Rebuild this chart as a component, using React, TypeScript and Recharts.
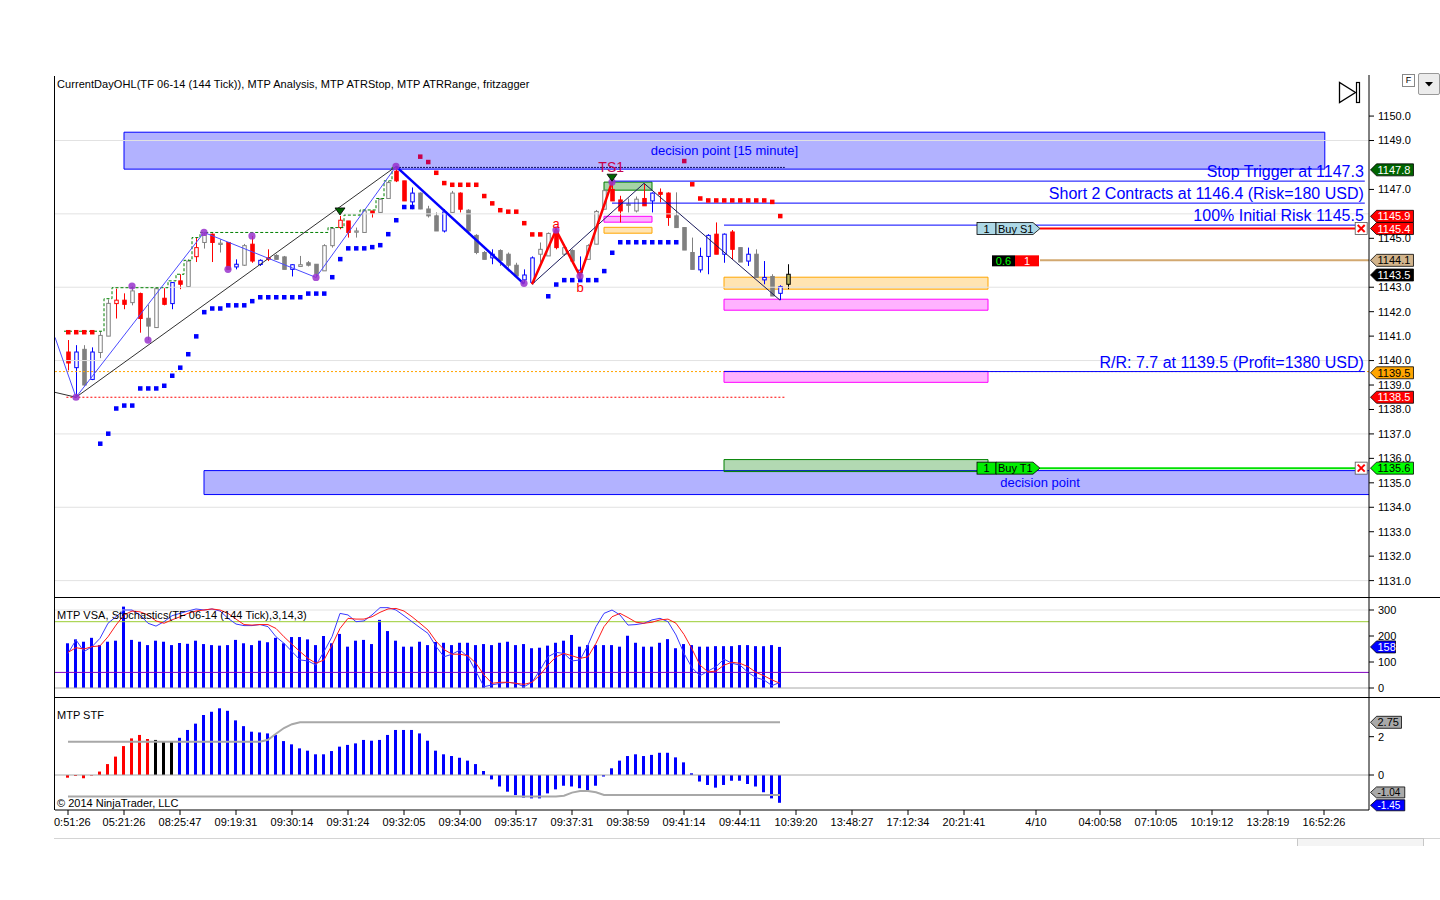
import React from 'react';
import {
  ComposedChart, Bar, Line, Scatter, XAxis, YAxis, ReferenceLine, ReferenceArea, Cell,
} from 'recharts';

const FONT = '"Liberation Sans", Arial, sans-serif';

// ---------- price candles (bar index 0..90) ----------
const OPEN = [1140.35,1139.71,1140.46,1139.23,1140.33,1141.0,1142.33,1142.47,1142.37,1142.74,
1141.73,1141.35,1142.55,1142.33,1143.26,1143.03,1144.25,1144.83,1145.17,1144.75,
1144.83,1143.83,1143.9,1144.76,1143.93,1144.2,1144.3,1144.24,1143.73,1143.85,
1144.0,1143.94,1143.67,1144.7,1145.44,1145.71,1145.25,1145.24,1146.12,1146.06,
1146.63,1147.75,1147.35,1146.49,1146.85,1146.2,1145.92,1145.3,1146.06,1146.85,
1146.15,1145.12,1144.42,1144.2,1144.5,1144.35,1143.9,1143.3,1143.2,1144.35,
1144.28,1145.3,1144.35,1144.5,1143.6,1144.14,1144.76,1146.19,1147.0,1146.57,
1146.4,1146.12,1146.63,1146.53,1146.88,1146.85,1145.92,1145.44,1144.42,1143.71,
1144.26,1145.17,1144.35,1145.26,1144.62,1144.07,1144.35,1143.3,1143.44,1142.75,
1143.12];
const HIGH = [1140.84,1140.63,1140.63,1140.54,1141.2,1142.5,1142.94,1142.75,1143.05,1142.78,
1142.29,1142.98,1142.96,1143.21,1143.53,1144.14,1145.03,1145.24,1145.2,1144.96,
1144.85,1144.14,1144.77,1145.1,1144.14,1144.55,1144.35,1144.28,1143.94,1144.28,
1144.07,1143.94,1144.76,1145.44,1145.92,1145.71,1145.44,1146.19,1146.12,1146.63,
1147.35,1147.94,1147.35,1147.08,1146.88,1146.33,1146.06,1146.19,1146.94,1146.88,
1146.19,1145.17,1144.48,1144.55,1144.55,1144.42,1144.0,1143.73,1144.26,1144.83,
1145.24,1145.4,1144.76,1144.55,1144.26,1144.76,1146.16,1147.0,1147.3,1146.74,
1146.63,1146.71,1147.22,1146.88,1147.04,1146.88,1146.88,1145.44,1145.03,1144.62,
1145.17,1145.65,1145.2,1145.34,1144.62,1144.62,1144.55,1144.07,1143.53,1143.08,
1143.94];
const LOW = [1139.6,1138.5,1138.97,1139.2,1140.1,1141.0,1141.72,1142.1,1142.26,1141.14,
1140.84,1141.35,1142.26,1142.1,1142.92,1143.03,1144.03,1144.58,1144.03,1144.42,
1143.73,1143.73,1143.87,1144.0,1143.87,1144.07,1144.14,1143.73,1143.44,1143.85,
1143.85,1143.4,1143.67,1144.62,1145.37,1145.03,1145.03,1145.24,1145.85,1146.06,
1146.63,1147.3,1146.53,1146.19,1146.19,1145.85,1145.3,1145.24,1146.06,1146.06,
1145.17,1144.35,1144.14,1143.94,1143.87,1143.8,1143.46,1143.16,1143.12,1144.0,
1144.28,1144.55,1144.28,1144.0,1143.46,1144.14,1144.76,1146.19,1146.53,1145.65,
1146.06,1146.06,1146.33,1146.06,1146.47,1145.51,1145.44,1144.52,1143.73,1143.6,
1143.53,1144.35,1144.0,1144.14,1144.03,1143.87,1143.4,1143.12,1142.64,1142.47,
1142.92];
const CLOSE = [1139.9,1140.35,1139.0,1140.35,1141.03,1142.34,1142.47,1142.3,1142.85,1141.72,
1141.41,1142.94,1142.3,1143.19,1143.12,1144.07,1144.62,1145.13,1144.83,1144.8,
1143.73,1143.94,1144.7,1144.07,1144.1,1144.15,1144.14,1143.73,1143.92,1143.92,
1143.9,1143.55,1144.7,1145.4,1145.74,1145.24,1145.3,1146.12,1146.03,1146.6,
1147.28,1147.35,1146.53,1146.85,1146.2,1145.92,1145.3,1146.08,1146.85,1146.19,
1145.3,1144.42,1144.14,1144.35,1144.1,1143.9,1143.46,1143.5,1144.2,1144.55,
1145.2,1144.62,1144.62,1144.07,1143.7,1144.7,1146.1,1146.95,1146.53,1146.12,
1146.35,1146.6,1146.33,1146.85,1146.8,1145.85,1145.44,1144.52,1143.73,1144.26,
1145.12,1144.35,1145.17,1144.55,1144.03,1144.35,1143.4,1143.4,1142.64,1143.03,
1143.53];
// r = red, b = blue, g = gray, k = current bar
const CANDLE_COLOR = 'rbgbggrrgrggrbrgrgrgrbgrbrggbgggggrrggrggrrbgggbgrgggbgggbbggrggbgggrrggrbrrgggbbrbrgbgbgbk';

// ---------- ATR stop dots ----------
const BLUE_STOP_IDX = [4,5,6,7,8,9,10,11,12,13,14,15,16,17,18,19,20,21,22,23,24,25,26,27,28,29,30,31,32,33,34,35,36,37,38,39,40,41,42,43,
  60,61,62,63,64,65,66,67,68,69,70,71,72,73,74,75,76];
const BLUE_STOP_VAL = [1136.61,1137.02,1138.05,1138.17,1138.17,1138.87,1138.87,1138.87,1138.98,1139.39,1139.72,1140.27,1141.0,1141.99,1142.14,1142.14,1142.27,1142.27,1142.27,1142.44,1142.6,1142.6,1142.6,1142.6,1142.6,1142.6,1142.75,1142.75,1142.75,1143.42,1144.16,1144.6,1144.6,1144.6,1144.65,1144.73,1145.18,1145.75,1146.29,1146.29,
  1142.64,1143.12,1143.3,1143.3,1143.3,1143.3,1143.3,1143.67,1144.42,1144.85,1144.85,1144.85,1144.85,1144.85,1144.85,1144.85,1144.85];
const RED_STOP_IDX = [0,1,2,3,44,45,46,47,48,49,50,51,52,53,54,55,56,57,58,59,77,78,79,80,81,82,83,84,85,86,87,88,89];
const RED_STOP_VAL = [1141.17,1141.17,1141.17,1141.17,1148.35,1148.13,1147.69,1147.27,1147.2,1147.2,1147.2,1147.2,1146.74,1146.44,1146.16,1146.1,1146.1,1145.63,1145.17,1145.17,
  1148.17,1147.22,1146.64,1146.56,1146.56,1146.56,1146.56,1146.56,1146.56,1146.56,1146.56,1146.5,1145.92];
const RED_STOP_KIND = 'rrrrmmrrrrrrrrrrrrrrmrrrrrrrrrrrr'; // m = crimson

// ---------- swing points / zigzags ----------
const PIVOT_IDX = [1,8,10,17,20,23,31,41,57,61,64,68];
const PIVOT_VAL = [1138.5,1143.05,1140.84,1145.24,1143.73,1145.1,1143.4,1147.94,1143.16,1145.34,1143.46,1147.3];
const ZIG_BLUE_IDX = [-1.625,1,17,31,41];
const ZIG_BLUE_VAL = [1140.95,1138.5,1145.24,1143.4,1147.94];
const ZIG_BLUE_BOLD_IDX = [41,57];
const ZIG_BLUE_BOLD_VAL = [1147.94,1143.14];
const ZIG_BLACK_IDX = [-1.625,1,41];
const ZIG_BLACK_VAL = [1138.7,1138.5,1147.94];
const ZIG_NAVY_IDX = [58,72,89];
const ZIG_NAVY_VAL = [1143.12,1147.25,1142.47];
const ZIG_RED_IDX = [58,61,64,68];
const ZIG_RED_VAL = [1143.12,1145.34,1143.46,1147.3];
const RANGE_STEP_IDX = [-0.5,4.5,5.5,12.5,13.5,14.5,15.5,16.5,32.5,34.5,36.5,38.5,39.5,40.5,41];
const RANGE_STEP_VAL = [1141.2,1142.53,1142.98,1143.26,1143.53,1144.1,1145.03,1145.24,1145.44,1145.95,1146.16,1146.63,1147.35,1147.9,1147.9];
const SIGNAL_IDX = [34,68];
const SIGNAL_VAL = [1146.12,1147.5];
const TAG_IDX = [61,64,67.9];
const TAG_VAL = [1145.62,1143.0,1147.9];
const TAG_TEXT = ['a','b','TS1'];

// ---------- levels ----------
// 1148.0, 1146.0 and 1144.0 sit under the price flags in the reference
const PRICE_TICKS = [1131,1132,1133,1134,1135,1136,1137,1138,1139,1140,1141,1142,1143,1145,1147,1149,1150];
const GRID_LEVELS = [1131,1134,1137,1140,1143,1146,1149];
const STOP_TRIGGER = 1147.34;
const SHORT_ENTRY = 1146.44;
const INITIAL_RISK = 1145.54;
const RR_TARGET = 1139.55;
const BUY_S1 = 1145.4;
const RISK_REWARD_LVL = 1144.1;
const BUY_T1 = 1135.6;
const PIVOT_LOW_LVL = 1138.5;
const SWING_HIGH_LVL = 1147.9;
const FLAG_VAL = [1147.8,1145.9,1145.4,1144.1,1143.5,1139.5,1138.5,1135.6];
const FLAG_BG = ['#006400','#ff0000','#ff0000','#d2b48c','#000000','#ffa500','#ff0000','#00ff00'];
const FLAG_FG = ['#ffffff','#ffffff','#ffffff','#000000','#ffffff','#000000','#ffffff','#000000'];

// ---------- VSA + stochastics ----------
const VOLUME = [172,187,178,193,165,178,182,313,185,178,
165,182,178,165,173,170,182,169,165,163,
165,185,172,165,182,176,193,172,196,196,
187,165,200,172,208,159,182,185,169,262,
219,182,159,159,178,165,177,174,165,174,
174,165,169,165,174,178,165,169,153,155,
163,174,182,204,159,165,165,165,165,159,
201,174,159,159,174,188,153,169,165,159,
159,161,161,161,165,165,161,161,165,158];
const STOCH_K = [133,185,140,159,191,249,274,300,300,281,
249,238,255,278,287,296,304,300,304,296,
268,246,240,240,244,236,197,172,140,108,
104,88,140,197,287,281,255,258,281,309,
309,300,278,255,232,210,160,120,130,146,
120,63,5,12,18,22,18,5,22,69,
120,137,133,104,108,165,236,287,300,281,
242,244,249,262,268,255,204,133,78,47,
65,82,111,95,88,60,40,31,9,22];
const STOCH_D = [137,155,150,159,162,197,242,281,296,293,
281,258,249,262,274,287,296,300,304,300,
287,265,244,242,244,244,229,197,168,140,
114,95,108,165,229,268,265,265,274,291,
304,306,296,274,249,223,180,148,130,130,
124,95,50,18,22,22,18,14,22,50,
88,120,133,124,114,120,172,236,274,287,
271,253,249,253,262,265,249,206,150,88,
62,65,88,99,95,82,60,47,31,18];

// ---------- STF ----------
const STF = [-0.14,-0.05,-0.17,-0.03,0.18,0.57,0.96,1.51,1.91,2.09,
1.88,1.83,1.77,1.77,1.94,2.35,2.68,3.13,3.3,3.48,
3.35,2.85,2.55,2.26,2.22,2.17,2.09,1.77,1.6,1.39,
1.27,1.08,1.08,1.25,1.48,1.57,1.65,1.83,1.79,1.83,
2.09,2.35,2.35,2.35,2.17,1.79,1.27,1.08,0.99,0.9,
0.75,0.57,0.21,-0.23,-0.6,-0.87,-1.05,-1.18,-1.22,-1.22,
-0.96,-0.75,-0.56,-0.6,-0.69,-0.8,-0.56,-0.08,0.35,0.75,
0.99,1.08,0.99,1.05,1.16,1.16,0.92,0.66,0.09,-0.34,
-0.52,-0.66,-0.52,-0.3,-0.3,-0.47,-0.6,-0.9,-1.22,-1.45];
const STF_COLOR = 'rrrrrrrrrrrkkkbbbbbbbbbbbbbbbbbbbbbbbbbbbbbbbbbbbbbbbbbbbbbbbbbbbbbbbbbbbbbbbbbbbbbbbbbbbb';
const STF_UPPER_IDX = [0,24,25,26,27,28,29,89];
const STF_UPPER_VAL = [1.74,1.74,1.84,2.15,2.45,2.65,2.75,2.75];
const STF_LOWER_IDX = [0,61,62,63,64,65,66,67,89];
const STF_LOWER_VAL = [-1.12,-1.12,-1.08,-0.92,-0.84,-0.84,-0.9,-1.04,-1.04];

// ---------- time axis ----------
const X_TICK_IDX = [0,7,14,21,28,35,42,49,56,63,70,77,84,91,98,105,112,121,129,136,143,150,157];
const X_TICK_LABELS = ['0:51:26','05:21:26','08:25:47','09:19:31','09:30:14','09:31:24','09:32:05','09:34:00','09:35:17','09:37:31','09:38:59','09:41:14','09:44:11','10:39:20','13:48:27','17:12:34','20:21:41','4/10','04:00:58','07:10:05','10:19:12','13:28:19','16:52:26'];

const X_DOMAIN: [number, number] = [-1.625, 162.625];

// ---------- built tables ----------
const candleData = OPEN.map((o, i) => ({ x: i, o, h: HIGH[i], l: LOW[i], c: CLOSE[i], col: CANDLE_COLOR[i] }));
const pts = (idx: number[], val: number[]) => idx.map((x, i) => ({ x, y: val[i] }));
const blueStops = pts(BLUE_STOP_IDX, BLUE_STOP_VAL).map(p => ({ ...p, k: 'b' }));
const redStops = pts(RED_STOP_IDX, RED_STOP_VAL).map((p, i) => ({ ...p, k: RED_STOP_KIND[i] }));
const tags = pts(TAG_IDX, TAG_VAL).map((p, i) => ({ ...p, t: TAG_TEXT[i] }));
const vsaData = VOLUME.map((v, i) => ({ x: i, vol: v, k: STOCH_K[i], d: STOCH_D[i] }));
const stfData = STF.map((v, i) => ({ x: i, stf: v }));

const COL: Record<string, string> = { r: '#ff0000', b: '#0000ff', g: '#808080', k: '#000000', m: '#c8004a' };

// ---------- shapes ----------
const Candle = (props: any) => {
  const { x, y, width, height, payload } = props;
  if (!payload || x == null) return null;
  const cx = Math.round(x + width / 2) + 0.5;
  const top = Math.min(y, y + height);
  const bot = Math.max(y, y + height);
  const { o, h, l, c, col } = payload;
  const span = h - l || 1;
  const py = (v: number) => top + ((h - v) / span) * (bot - top);
  const color = COL[col];
  const up = c > o;
  const bTop = py(Math.max(o, c));
  const bBot = py(Math.min(o, c));
  const fill = col === 'k' ? '#b8b860' : up ? '#ffffff' : color;
  return (
    <g>
      <line x1={cx} x2={cx} y1={top} y2={bot} stroke={color} strokeWidth={1} />
      <rect x={cx - 1.75} y={bTop} width={3.5} height={Math.max(1, bBot - bTop)} fill={fill} stroke={color} strokeWidth={1} />
    </g>
  );
};

const Square = (props: any) => {
  const { cx, cy, payload } = props;
  if (cx == null) return null;
  return <rect x={cx - 2} y={cy - 2} width={4.5} height={4.5} fill={COL[payload.k]} />;
};

const PivotDot = (props: any) => {
  const { cx, cy } = props;
  if (cx == null) return null;
  return <circle cx={cx} cy={cy} r={3.6} fill="#9932cc" fillOpacity={0.85} />;
};

const DownTriangle = (props: any) => {
  const { cx, cy } = props;
  if (cx == null) return null;
  return <polygon points={`${cx - 5},${cy - 3} ${cx + 5},${cy - 3} ${cx},${cy + 4}`} fill="#006400" stroke="#000" strokeWidth={0.8} />;
};

const TagText = (props: any) => {
  const { cx, cy, payload } = props;
  if (cx == null) return null;
  const isTs = payload.t === 'TS1';
  return (
    <text x={cx} y={cy} dy="0.36em" textAnchor="middle" fontSize={isTs ? 14 : 13} fontFamily={FONT} fill={isTs ? '#c8004a' : '#ff0000'}>
      {payload.t}
    </text>
  );
};

const EndText = (props: any) => {
  const { viewBox, text } = props;
  if (!viewBox) return null;
  return (
    <text x={viewBox.x + viewBox.width - 1} y={viewBox.y - 4} textAnchor="end" fontSize={16} fill="#0000ff" fontFamily={FONT}>
      {text}
    </text>
  );
};

const Flag = (props: any) => {
  const { viewBox, text, bg, fg, shift = 0, size = 11 } = props;
  if (!viewBox) return null;
  const x0 = viewBox.x + viewBox.width + 1.5;
  const y = viewBox.y + shift;
  const w = text.length * (size * 0.545) + 1;
  const hh = size === 11 ? 6 : 5.5;
  return (
    <g>
      <polygon
        points={`${x0},${y} ${x0 + 6},${y - hh} ${x0 + 6 + w},${y - hh} ${x0 + 6 + w},${y + hh} ${x0 + 6},${y + hh}`}
        fill={bg} stroke="#000" strokeWidth={0.8}
      />
      <text x={x0 + 7} y={y} dy="0.36em" fontSize={size} fill={fg} fontFamily={FONT}>{text}</text>
    </g>
  );
};

const XBox = ({ x, y }: { x: number; y: number }) => (
  <g>
    <rect x={x} y={y - 6} width={12} height={12} fill="#fff" stroke="#555" strokeWidth={0.8} />
    <line x1={x + 2.5} y1={y - 3.5} x2={x + 9.5} y2={y + 3.5} stroke="#ff0000" strokeWidth={2} />
    <line x1={x + 9.5} y1={y - 3.5} x2={x + 2.5} y2={y + 3.5} stroke="#ff0000" strokeWidth={2} />
  </g>
);

const OrderTag = (props: any) => {
  const { viewBox, qty, name, bg } = props;
  if (!viewBox) return null;
  const xe = viewBox.x;
  const y = viewBox.y;
  const x0 = xe - 63;
  return (
    <g fontFamily={FONT} fontSize={11}>
      <rect x={x0} y={y - 6} width={19} height={12} fill={bg} stroke="#000" strokeWidth={0.8} />
      <polygon points={`${x0 + 19},${y - 6} ${xe - 7},${y - 6} ${xe},${y} ${xe - 7},${y + 6} ${x0 + 19},${y + 6}`} fill={bg} stroke="#000" strokeWidth={0.8} />
      <text x={x0 + 9.5} y={y} dy="0.36em" textAnchor="middle" fill="#000">{qty}</text>
      <text x={x0 + 21} y={y} dy="0.36em" fill="#000">{name}</text>
      <XBox x={viewBox.x + viewBox.width} y={y} />
    </g>
  );
};

const RiskTag = (props: any) => {
  const { viewBox, ratio, qty } = props;
  if (!viewBox) return null;
  const xe = viewBox.x;
  const y = viewBox.y;
  return (
    <g fontFamily={FONT} fontSize={11}>
      <rect x={xe - 48} y={y - 5} width={23} height={11} fill="#000" />
      <rect x={xe - 25} y={y - 5} width={24} height={11} fill="#ff0000" />
      <text x={xe - 36.5} y={y} dy="0.4em" textAnchor="middle" fill="#00ff00">{ratio}</text>
      <text x={xe - 13} y={y} dy="0.4em" textAnchor="middle" fill="#fff">{qty}</text>
    </g>
  );
};

const TimeTick = (props: any) => {
  const { x, y, payload } = props;
  const i = X_TICK_IDX.indexOf(payload.value);
  const label = i >= 0 ? X_TICK_LABELS[i] : '';
  const first = i === 0;
  return (
    <text x={first ? 54 : x} y={y + 1} dy="0.71em" textAnchor={first ? 'start' : 'middle'} fontSize={11} fontFamily={FONT} fill="#000">
      {label}
    </text>
  );
};

const axisTick = { fontSize: 11, fill: '#000', fontFamily: FONT };
const MARGIN = { top: 0, right: 0, bottom: 0, left: 55 };

const hSeg = (x1: number, x2: number, y: number) => [{ x: x1, y }, { x: x2, y }] as any;

const abs = (style: React.CSSProperties): React.CSSProperties => ({ position: 'absolute', ...style });

export default function App() {
  return (
    <div style={abs({ left: 0, top: 0, width: 1440, height: 900, background: '#fff', overflow: 'hidden', fontFamily: FONT })}>
      {/* main price panel */}
      <div style={abs({ left: 0, top: 75 })}>
        <ComposedChart width={1440} height={522} data={candleData} margin={MARGIN}>
          <XAxis dataKey="x" type="number" domain={X_DOMAIN} allowDataOverflow hide />
          <YAxis
            orientation="right" type="number" domain={[1130.33, 1151.68]} allowDataOverflow
            ticks={PRICE_TICKS} interval={0} tickFormatter={(v: number) => v.toFixed(1)}
            width={71} tick={axisTick} tickSize={5} tickMargin={4}
            axisLine={{ stroke: '#000' }} tickLine={{ stroke: '#000' }}
          />
          {GRID_LEVELS.map(v => (
            <ReferenceLine key={'g' + v} y={v} stroke="#e2e2e2" ifOverflow="visible" />
          ))}

          <ReferenceArea x1={7} x2={157.1} y1={1147.83} y2={1149.34} ifOverflow="hidden"
            fill="#0000ff" fillOpacity={0.3} stroke="#0000ff" strokeOpacity={1}
            label={{ value: 'decision point [15 minute]', position: 'center', fill: '#0000ff', fontSize: 13, fontFamily: FONT }} />
          <ReferenceArea x1={17} x2={226} y1={1134.52} y2={1135.5} ifOverflow="hidden"
            fill="#0000ff" fillOpacity={0.3} stroke="#0000ff" strokeOpacity={1}
            label={{ value: 'decision point', position: 'center', fill: '#0000ff', fontSize: 13, fontFamily: FONT }} />
          <ReferenceArea x1={82} x2={115} y1={1135.46} y2={1135.95} ifOverflow="hidden" fill="#008000" fillOpacity={0.3} stroke="#008000" />
          <ReferenceArea x1={82} x2={115} y1={1142.92} y2={1143.41} ifOverflow="hidden" fill="#ffa500" fillOpacity={0.3} stroke="#ffa500" />
          <ReferenceArea x1={82} x2={115} y1={1142.06} y2={1142.51} ifOverflow="hidden" fill="#ff00ff" fillOpacity={0.3} stroke="#ff00ff" />
          <ReferenceArea x1={82} x2={115} y1={1139.11} y2={1139.56} ifOverflow="hidden" fill="#ff00ff" fillOpacity={0.3} stroke="#ff00ff" />
          <ReferenceArea x1={67} x2={73} y1={1146.97} y2={1147.3} ifOverflow="hidden" fill="#008000" fillOpacity={0.35} stroke="#008000" />
          <ReferenceArea x1={67} x2={73} y1={1145.66} y2={1145.9} ifOverflow="hidden" fill="#ff00ff" fillOpacity={0.3} stroke="#ff00ff" />
          <ReferenceArea x1={67} x2={73} y1={1145.21} y2={1145.45} ifOverflow="hidden" fill="#ffa500" fillOpacity={0.3} stroke="#ffa500" />

          <ReferenceLine segment={hSeg(-1.625, 162.625, RR_TARGET)} stroke="#ffa500" strokeDasharray="2 2" ifOverflow="visible" />
          <ReferenceLine segment={hSeg(-0.2, 89.6, PIVOT_LOW_LVL)} stroke="#ff0000" strokeDasharray="2 2" ifOverflow="visible" />
          <ReferenceLine segment={hSeg(41, 89.6, SWING_HIGH_LVL)} stroke="#101060" strokeDasharray="2 1" ifOverflow="visible" />
          <ReferenceLine segment={hSeg(68, 162.1, STOP_TRIGGER)} stroke="#0000ff" ifOverflow="visible"
            label={<EndText text="Stop Trigger at 1147.3" />} />
          <ReferenceLine segment={hSeg(68, 162.1, SHORT_ENTRY)} stroke="#0000ff" ifOverflow="visible"
            label={<EndText text="Short 2 Contracts at 1146.4 (Risk=180 USD)" />} />
          <ReferenceLine segment={hSeg(82, 162.1, INITIAL_RISK)} stroke="#0000ff" ifOverflow="visible"
            label={<EndText text="100% Initial Risk 1145.5" />} />
          <ReferenceLine segment={hSeg(82, 162.1, RR_TARGET)} stroke="#0000ff" ifOverflow="visible"
            label={<EndText text="R/R: 7.7 at 1139.5 (Profit=1380 USD)" />} />
          <ReferenceLine segment={hSeg(121.5, 162.625, RISK_REWARD_LVL)} stroke="#d2a870" strokeWidth={2} ifOverflow="visible"
            label={<RiskTag ratio="0.6" qty="1" />} />
          <ReferenceLine segment={hSeg(121.5, 160.9, BUY_S1)} stroke="#ff0000" strokeWidth={2} ifOverflow="visible"
            label={<OrderTag qty="1" name="Buy S1" bg="#add8e6" />} />
          <ReferenceLine segment={hSeg(121.5, 160.9, BUY_T1)} stroke="#00e000" strokeWidth={2} ifOverflow="visible"
            label={<OrderTag qty="1" name="Buy T1" bg="#00ee00" />} />

          <Line data={pts(RANGE_STEP_IDX, RANGE_STEP_VAL)} dataKey="y" type="stepAfter" stroke="#008000" strokeDasharray="3 2" strokeWidth={1} dot={false} isAnimationActive={false} />
          <Line data={pts(ZIG_BLACK_IDX, ZIG_BLACK_VAL)} dataKey="y" stroke="#303030" strokeWidth={1} dot={false} isAnimationActive={false} />
          <Line data={pts(ZIG_BLUE_IDX, ZIG_BLUE_VAL)} dataKey="y" stroke="#4a4aff" strokeWidth={1} dot={false} isAnimationActive={false} />
          <Line data={pts(ZIG_NAVY_IDX, ZIG_NAVY_VAL)} dataKey="y" stroke="#1a1a5a" strokeWidth={1} dot={false} isAnimationActive={false} />

          <Bar dataKey={(d: any) => [d.l, d.h]} barSize={5} shape={<Candle />} isAnimationActive={false} />

          <Line data={pts(ZIG_BLUE_BOLD_IDX, ZIG_BLUE_BOLD_VAL)} dataKey="y" stroke="#0000ff" strokeWidth={2.5} dot={false} isAnimationActive={false} />
          <Line data={pts(ZIG_RED_IDX, ZIG_RED_VAL)} dataKey="y" stroke="#ff0000" strokeWidth={2.5} dot={false} isAnimationActive={false} />

          <Scatter data={blueStops} dataKey="y" shape={<Square />} isAnimationActive={false} />
          <Scatter data={redStops} dataKey="y" shape={<Square />} isAnimationActive={false} />
          <Scatter data={pts(PIVOT_IDX, PIVOT_VAL)} dataKey="y" shape={<PivotDot />} isAnimationActive={false} />
          <Scatter data={pts(SIGNAL_IDX, SIGNAL_VAL)} dataKey="y" shape={<DownTriangle />} isAnimationActive={false} />
          <Scatter data={tags} dataKey="y" shape={<TagText />} isAnimationActive={false} />

          {FLAG_VAL.map((v, i) => (
            <ReferenceLine key={'f' + v} y={v} stroke="none" ifOverflow="visible"
              label={<Flag text={v.toFixed(1)} bg={FLAG_BG[i]} fg={FLAG_FG[i]} />} />
          ))}
        </ComposedChart>
      </div>

      {/* VSA / stochastics panel */}
      <div style={abs({ left: 0, top: 597 })}>
        <ComposedChart width={1440} height={100} data={vsaData} margin={MARGIN}>
          <XAxis dataKey="x" type="number" domain={X_DOMAIN} allowDataOverflow hide />
          <YAxis
            orientation="right" type="number" domain={[-34.6, 350]} allowDataOverflow
            ticks={[0, 100, 200, 300]} interval={0} width={71} tick={axisTick} tickSize={5} tickMargin={4}
            axisLine={{ stroke: '#000' }} tickLine={{ stroke: '#000' }}
          />
          <ReferenceLine y={300} stroke="#e2e2e2" ifOverflow="visible" />
          <ReferenceLine y={255} stroke="#9acd32" ifOverflow="visible" />
          <ReferenceLine y={60} stroke="#8000c0" ifOverflow="visible" />
          <ReferenceLine y={0} stroke="#a8a8a8" ifOverflow="visible" />
          <Bar dataKey="vol" barSize={3} fill="#0000ff" isAnimationActive={false} />
          <Line dataKey="k" stroke="#3a3aff" strokeWidth={1} dot={false} isAnimationActive={false} />
          <Line dataKey="d" stroke="#ff1a1a" strokeWidth={1} dot={false} isAnimationActive={false} />
          <ReferenceLine y={158} stroke="none" ifOverflow="visible" label={<Flag text="158" bg="#0000ff" fg="#ffffff" />} />
        </ComposedChart>
      </div>

      {/* STF panel + time axis */}
      <div style={abs({ left: 0, top: 697 })}>
        <ComposedChart width={1440} height={143} data={stfData} margin={MARGIN}>
          <XAxis
            dataKey="x" type="number" domain={X_DOMAIN} allowDataOverflow ticks={X_TICK_IDX} interval={0}
            height={30} tick={<TimeTick />} tickSize={5} tickMargin={2}
            axisLine={{ stroke: '#000' }} tickLine={{ stroke: '#000' }}
          />
          <YAxis
            orientation="right" type="number" domain={[-1.826, 4.07]} allowDataOverflow
            ticks={[0, 2]} interval={0} width={71} tick={axisTick} tickSize={5} tickMargin={4}
            axisLine={{ stroke: '#000' }} tickLine={{ stroke: '#000' }}
          />
          <ReferenceLine y={0} stroke="#a8a8a8" ifOverflow="visible" />
          <Line data={pts(STF_UPPER_IDX, STF_UPPER_VAL)} dataKey="y" stroke="#a8a8a8" strokeWidth={2} dot={false} isAnimationActive={false} />
          <Line data={pts(STF_LOWER_IDX, STF_LOWER_VAL)} dataKey="y" stroke="#a8a8a8" strokeWidth={2} dot={false} isAnimationActive={false} />
          <Bar dataKey="stf" barSize={3} isAnimationActive={false}>
            {stfData.map((d, i) => <Cell key={i} fill={COL[STF_COLOR[i]]} />)}
          </Bar>
          <ReferenceLine y={-1.45} stroke="none" ifOverflow="visible" label={<Flag text="-1.45" bg="#0000ff" fg="#ffffff" shift={2.5} size={10} />} />
          <ReferenceLine y={-1.04} stroke="none" ifOverflow="visible" label={<Flag text="-1.04" bg="#a9a9a9" fg="#000000" shift={-2.5} size={10} />} />
          <ReferenceLine y={2.75} stroke="none" ifOverflow="visible" label={<Flag text="2.75" bg="#a9a9a9" fg="#000000" />} />
        </ComposedChart>
      </div>

      {/* frame lines */}
      <div style={abs({ left: 54, top: 76, width: 1, height: 734, background: '#000' })} />
      <div style={abs({ left: 54, top: 597, width: 1386, height: 1, background: '#000' })} />
      <div style={abs({ left: 54, top: 697, width: 1386, height: 1, background: '#000' })} />
      <div style={abs({ left: 54, top: 838, width: 1386, height: 1, background: '#d4d4d4' })} />
      <div style={abs({ left: 1297, top: 838, width: 125, height: 7, border: '1px solid #c8c8c8', borderBottom: 'none', background: '#f4f4f4' })} />

      {/* panel captions */}
      <div style={abs({ left: 57, top: 78, fontSize: 11, lineHeight: '12px', color: '#000', whiteSpace: 'nowrap', letterSpacing: 0.06 })}>
        CurrentDayOHL(TF 06-14 (144 Tick)), MTP Analysis, MTP ATRStop, MTP ATRRange, fritzagger
      </div>
      <div style={abs({ left: 57, top: 609, fontSize: 11, lineHeight: '12px', color: '#000', whiteSpace: 'nowrap', letterSpacing: 0.05 })}>
        MTP VSA, Stochastics(TF 06-14 (144 Tick),3,14,3)
      </div>
      <div style={abs({ left: 57, top: 709, fontSize: 11, lineHeight: '12px', color: '#000', whiteSpace: 'nowrap' })}>
        MTP STF
      </div>
      <div style={abs({ left: 57, top: 797, fontSize: 11, lineHeight: '12px', color: '#000', whiteSpace: 'nowrap' })}>
        © 2014 NinjaTrader, LLC
      </div>

      {/* toolbar icons */}
      <svg style={abs({ left: 1336, top: 80 })} width={28} height={26}>
        <polygon points="3.5,2.5 3.5,22.5 19.5,12.5" fill="none" stroke="#000" strokeWidth={1.3} />
        <rect x={20.5} y={2.5} width={3} height={20} fill="none" stroke="#000" strokeWidth={1.2} />
      </svg>
      <div style={abs({ left: 1402, top: 74, width: 11, height: 11, border: '1px solid #888', background: '#fff', fontSize: 9, lineHeight: '11px', textAlign: 'center', color: '#000' })}>F</div>
      <div style={abs({ left: 1418, top: 73, width: 20, height: 20, border: '1px solid #999', borderRadius: 2, background: '#ececec' })}>
        <svg width={20} height={20}><polygon points="6,8 14,8 10,12.5" fill="#000" /></svg>
      </div>
    </div>
  );
}
